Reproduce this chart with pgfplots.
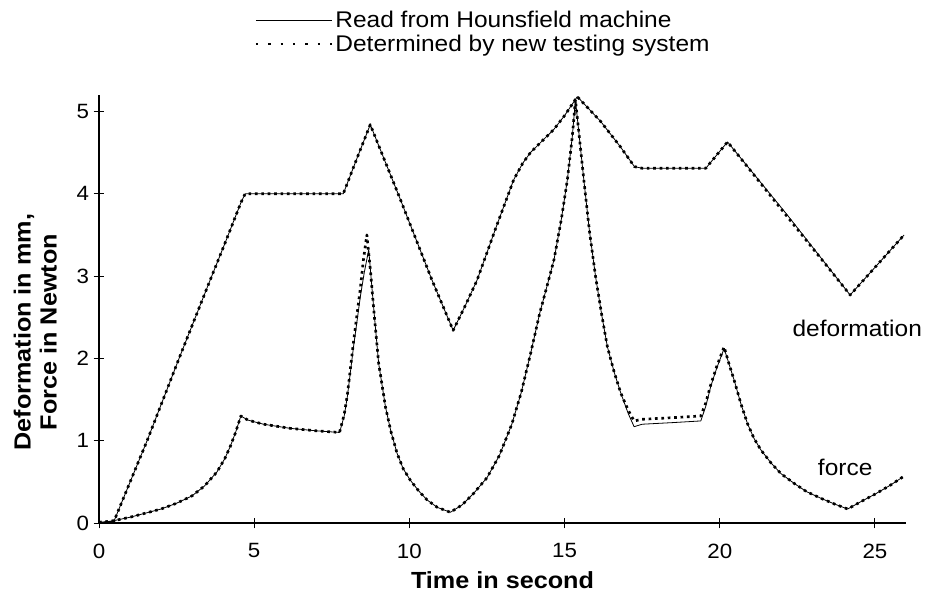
\documentclass[border=0pt]{standalone}
\usepackage{fontspec}
\setmainfont{Liberation Sans}[FakeStretch=1.08]
\usepackage{pgfplots}
\pgfplotsset{compat=1.18}

\begin{document}
\begin{tikzpicture}
% fixed page frame around the axis box
\useasboundingbox (-74.25pt,-56.25pt) rectangle (619.5pt,392.25pt);
\begin{axis}[
  at={(0pt,0pt)}, anchor=south west,
  scale only axis, width=605.25pt, height=321pt,
  xmin=0, xmax=26, ymin=0, ymax=5.2,
  clip mode=individual,
  axis lines*=left,
  axis line style={line width=0.8pt},
  tick align=center, major tick length=8pt,
  tick style={line width=0.7pt, black},
  xtick={0,5,10,15,20,25}, ytick={0,1,2,3,4,5},
  /pgf/number format/assume math mode=true,
  tick label style={font=\fontsize{15.5}{17}\selectfont},
  xticklabel style={yshift=-8pt},
  xlabel={Time in second},
  ylabel={Deformation in mm,\\Force in Newton},
  label style={font=\fontsize{17.5}{19.5}\selectfont\bfseries},
  xlabel style={yshift=-3pt},
  ylabel style={align=center, at={(axis description cs:-0.079,0.446)}, anchor=center},
  legend image code/.code={\draw[#1] (0pt,0pt) -- (57pt,0pt);},
  legend style={draw=none, fill=none, font=\fontsize{17}{19}\selectfont,
    at={(rel axis cs:0.193,1.203)}, anchor=north west,
    row sep=0pt, inner sep=0pt},
  legend cell align=left,
  every axis plot/.append style={line join=round},
]
\addlegendimage{black, line width=0.6pt}
\addlegendentry{Read from Hounsfield machine}
\addlegendimage{black, line width=1.3pt, dash pattern=on 1.8pt off 7.5pt}
\addlegendentry{Determined by new testing system}

% deformation, testing system
\addplot[forget plot, black, line width=2pt, dash pattern=on 2pt off 2.8pt] coordinates {
(0,0.01) (0.48,0.02) (1.55,1.0) (2.58,2.0) (3.58,2.95) (4.06,3.40) (4.57,3.89) (4.71,4.0)
(5.5,4.0) (6.5,4.0) (7.87,4.0) (8.3,4.42) (8.74,4.84) (9.7,3.94) (10.73,2.95) (11.41,2.34)
(11.8,2.64) (12.18,2.95) (12.8,3.6) (13.36,4.17) (13.65,4.37) (13.9,4.5) (14.3,4.65)
(14.65,4.78) (15.0,4.95) (15.41,5.18)
(16.16,4.88) (16.8,4.57) (17.25,4.33) (17.5,4.31) (18.5,4.31) (19.55,4.31) (20.25,4.63)
(22.18,3.72) (24.2,2.77) (25.94,3.50)
};
% deformation, Hounsfield machine
\addplot[forget plot, black, line width=0.6pt] coordinates {
(0,0.01) (0.48,0.02) (1.55,1.0) (2.58,2.0) (3.58,2.95) (4.06,3.40) (4.57,3.89) (4.71,4.0)
(5.5,4.0) (6.5,4.0) (7.87,4.0) (8.3,4.42) (8.74,4.84) (9.7,3.94) (10.73,2.95) (11.41,2.34)
(11.8,2.64) (12.18,2.95) (12.8,3.6) (13.36,4.17) (13.65,4.37) (13.9,4.5) (14.3,4.65)
(14.65,4.78) (15.0,4.95) (15.41,5.18)
(16.16,4.88) (16.8,4.57) (17.25,4.33) (17.5,4.31) (18.5,4.31) (19.55,4.31) (20.25,4.63)
(22.18,3.74) (24.2,2.77) (25.94,3.50)
};
% force, testing system
\addplot[forget plot, black, line width=2pt, dash pattern=on 2pt off 2.8pt] coordinates {
(0,0.0) (0.5,0.03) (1.0,0.07) (1.5,0.12) (2.0,0.17) (2.5,0.24) (3.0,0.33) (3.4,0.45)
(3.8,0.62) (4.05,0.78) (4.23,0.93) (4.4,1.1) (4.57,1.30)
(4.8,1.25) (5.3,1.20) (6.16,1.15) (7.0,1.12) (7.75,1.10)
(7.9,1.32) (8.0,1.55) (8.2,2.2) (8.42,2.85) (8.52,3.2) (8.63,3.50)
(8.75,3.05) (8.85,2.6) (9.01,1.94) (9.23,1.41) (9.4,1.12) (9.6,0.85) (9.8,0.66)
(10.03,0.52) (10.3,0.39) (10.57,0.28) (10.9,0.19) (11.32,0.13)
(11.7,0.22) (12.07,0.36) (12.5,0.55) (12.9,0.82) (13.3,1.2) (13.6,1.58) (13.9,2.05)
(14.2,2.55) (14.45,2.9) (14.66,3.2) (14.9,3.7) (15.09,4.17) (15.25,4.7) (15.35,5.14)
(15.5,4.6) (15.62,4.17) (15.8,3.55) (16.0,2.99) (16.2,2.52) (16.38,2.14) (16.6,1.83)
(16.81,1.58) (17.05,1.37) (17.24,1.24) (17.5,1.26) (18.5,1.28) (19.39,1.30)
(19.55,1.46) (19.71,1.68) (19.9,1.90) (20.14,2.14)
(20.3,1.93) (20.46,1.74) (20.68,1.45) (20.89,1.21) (21.1,1.03) (21.32,0.89) (21.65,0.73)
(21.97,0.60) (22.4,0.48) (22.8,0.38) (23.26,0.30) (23.7,0.23) (24.12,0.17)
(24.6,0.27) (25.0,0.35) (25.5,0.46) (25.9,0.56)
};
% force, Hounsfield machine
\addplot[forget plot, black, line width=0.6pt] coordinates {
(0,0.0) (0.5,0.03) (1.0,0.07) (1.5,0.12) (2.0,0.17) (2.5,0.24) (3.0,0.33) (3.4,0.45)
(3.8,0.62) (4.05,0.78) (4.23,0.93) (4.4,1.1) (4.57,1.30)
(4.8,1.25) (5.3,1.20) (6.16,1.15) (7.0,1.12) (7.75,1.10)
(7.9,1.30) (8.0,1.53) (8.2,2.14) (8.42,2.75) (8.55,3.05) (8.69,3.32)
(8.8,2.83) (8.9,2.4) (9.01,1.94) (9.23,1.41) (9.4,1.12) (9.6,0.85) (9.8,0.66)
(10.03,0.52) (10.3,0.39) (10.57,0.28) (10.9,0.19) (11.32,0.13)
(11.7,0.22) (12.07,0.36) (12.5,0.55) (12.9,0.82) (13.3,1.2) (13.6,1.58) (13.9,2.05)
(14.2,2.55) (14.45,2.9) (14.66,3.2) (14.9,3.7) (15.09,4.17) (15.25,4.7) (15.35,5.14)
(15.5,4.6) (15.62,4.17) (15.8,3.55) (16.0,2.99) (16.2,2.52) (16.38,2.14) (16.6,1.83)
(16.81,1.58) (17.05,1.33) (17.24,1.17) (17.5,1.20) (18.5,1.22) (19.39,1.24)
(19.55,1.42) (19.71,1.66) (19.9,1.88) (20.14,2.12)
(20.3,1.93) (20.46,1.74) (20.68,1.45) (20.89,1.21) (21.1,1.03) (21.32,0.89) (21.65,0.73)
(21.97,0.60) (22.4,0.48) (22.8,0.38) (23.26,0.30) (23.7,0.23) (24.12,0.17)
(24.6,0.27) (25.0,0.35) (25.5,0.46) (25.9,0.56)
};

\node[font=\fontsize{17}{19}\selectfont] at (axis cs:24.43,2.37) {deformation};
\node[font=\fontsize{17}{19}\selectfont] at (axis cs:24.04,0.67) {force};
\end{axis}
\end{tikzpicture}
\end{document}
